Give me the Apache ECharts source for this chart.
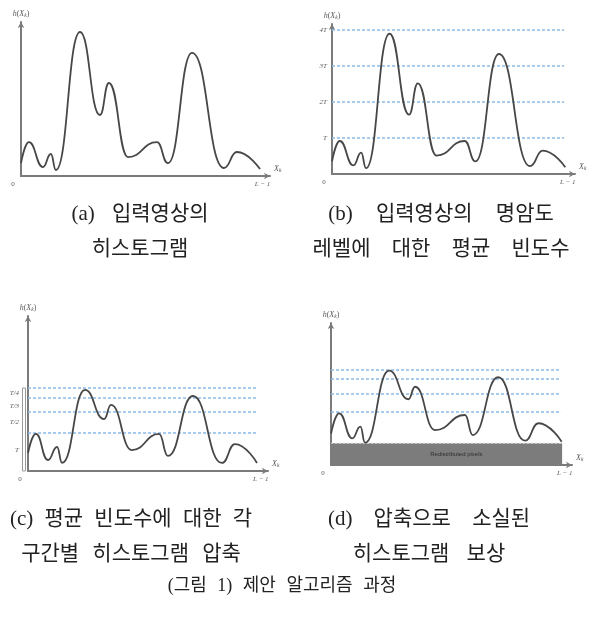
<!DOCTYPE html>
<html>
<head>
<meta charset="utf-8">
<script src="https://cdn.jsdelivr.net/npm/echarts@6/dist/echarts.min.js"></script>
<style>
  html, body { margin: 0; padding: 0; background: #fff; }
  #chart { width: 590px; height: 617px; }
</style>
</head>
<body>
<div id="chart"></div>
<script>
// Turning points of each histogram: [gray level (0 … L-1 scaled to 0–100), frequency h(X_k)]
const histInput = [
  [0, 8.4], [3.2, 22], [8.8, 5.8], [12, 14.3], [14, 3.9], [23.7, 93.5], [31.7, 39.6],
  [35.3, 60.4], [43, 12.3], [54.6, 22], [59, 8.4], [68.7, 80], [81.5, 5.2], [86.7, 15.6], [96, 4.5]
];
const histCompressed = [
  [0, 11.6], [3.3, 23.9], [8.3, 7.1], [12.1, 15.5], [14.2, 5.2], [23.75, 52.3], [31.7, 33.5],
  [34.6, 42.6], [43.3, 13.5], [54.6, 23.9], [58.3, 9.7], [68.75, 48.4], [80.8, 5.2], [86.25, 17.4], [95.4, 5.2]
];
const histCompensated = [
  [0, 22], [3.4, 36.4], [8.8, 18.8], [12.2, 27], [14.1, 15.7], [24.1, 66.4], [32.1, 46.3],
  [34.9, 55.1], [43.2, 24.6], [55.6, 35.2], [58.8, 21.1], [69.4, 61.8], [80.5, 17.1], [86.1, 29.4], [95.7, 16.4]
];

// Average-frequency levels (b), compressed interval bounds (c), and the same bounds after compensation (d)
const avgLevels = [24, 48, 72, 96];
const avgLevelLabels = ['T', '2T', '3T', '4T'];
const compressedLevels = [25, 38, 47, 53.5];
const intervalLabelPos = [13.5, 31.6, 42, 50.3];
const intervalLabels = ['T', 'T/2', 'T/3', 'T/4'];
const compensatedLevels = [37.5, 50.2, 60.4, 67.4];
const redistributedLevel = 15.3;
const levelEnd = 95.5;
const bandEnd = 95.9;
const lastLevelTick = 97;

const subCaptions = [
  ['(a) 입력영상의', '히스토그램'],
  ['(b) 입력영상의 명암도', '레벨에 대한 평균 빈도수'],
  ['(c) 평균 빈도수에 대한 각', '구간별 히스토그램 압축'],
  ['(d) 압축으로 소실된', '히스토그램 보상']
];
const figureTitle = '(그림 1) 제안 알고리즘 과정';

const SERIF = "'Liberation Serif', 'DejaVu Serif', serif";
const CAPTION_FONT = "'Liberation Serif', 'Noto Sans CJK KR', sans-serif";
const AXIS_COLOR = '#7b7b7b';
const CURVE_COLOR = '#474747';
const LEVEL_COLOR = '#8cbbe8';
const LABEL_COLOR = '#5a5a5a';

const grids = [
  { left: 21, top: 22, width: 249, height: 154 },
  { left: 332, top: 24, width: 243, height: 150 },
  { left: 28, top: 316, width: 240, height: 155 },
  { left: 331, top: 323, width: 241, height: 142 }
];
// caption block centres: [x, first line y] and half word-gap padding per line
const captionAnchors = [[140, 214], [441, 214], [131, 519], [429, 519]];
const captionPads = [[6, 5], [9, 8], [3, 4], [8, 6]];

const italicRich = {
  i: { fontFamily: SERIF, fontStyle: 'italic', fontSize: 8, color: LABEL_COLOR },
  p: { fontFamily: SERIF, fontSize: 8, color: LABEL_COLOR },
  s: { fontFamily: SERIF, fontStyle: 'italic', fontSize: 5.5, color: LABEL_COLOR, padding: [5, 0, 0, 0] },
  z: { fontFamily: SERIF, fontSize: 7, color: LABEL_COLOR, padding: [0, 16, 0, 0] },
  l: { fontFamily: SERIF, fontStyle: 'italic', fontSize: 7, color: LABEL_COLOR }
};

function xAxisFor(i) {
  return {
    type: 'value', gridIndex: i, min: 0, max: 100,
    axisLine: { show: true, lineStyle: { color: AXIS_COLOR, width: 2 }, symbol: ['none', 'arrow'], symbolSize: [5, 6] },
    axisTick: { show: false },
    splitLine: { show: false },
    axisLabel: {
      show: true, customValues: [0, lastLevelTick], margin: 5,
      formatter: v => (v === 0 ? '{z|0}' : '{l|L − 1}'),
      rich: italicRich
    },
    name: '{i|X}{s|k}', nameLocation: 'end', nameGap: 4,
    nameTextStyle: { rich: italicRich, verticalAlign: 'bottom', padding: [0, 0, 2, 0] }
  };
}

function yAxisFor(i, labelValues, labelTexts) {
  return {
    type: 'value', gridIndex: i, min: 0, max: 100,
    axisLine: { show: true, onZero: false, lineStyle: { color: AXIS_COLOR, width: 2 }, symbol: ['none', 'arrow'], symbolSize: [5, 6] },
    axisTick: { show: false },
    splitLine: { show: false },
    axisLabel: labelValues ? {
      show: true, customValues: labelValues, margin: i === 2 ? 9 : 5,
      formatter: v => '{i|' + labelTexts[labelValues.indexOf(v)] + '}',
      rich: { i: { fontFamily: SERIF, fontStyle: 'italic', fontSize: 7, color: LABEL_COLOR } }
    } : { show: false },
    name: '{i|h}{p|(}{i|X}{s|k}{p|)}', nameLocation: 'end', nameGap: 3,
    nameTextStyle: { rich: italicRich }
  };
}

function levelLines(levels, end) {
  return {
    silent: true, symbol: ['none', 'none'], animation: false,
    label: { show: false },
    lineStyle: { type: [3, 2], color: LEVEL_COLOR, width: 1.5, opacity: 1 },
    emphasis: { disabled: true },
    data: levels.map(v => [{ coord: [0, v] }, { coord: [end, v] }])
  };
}

function curve(i, data, extra) {
  return Object.assign({
    type: 'line', xAxisIndex: i, yAxisIndex: i, data: data,
    smooth: 0.5, smoothMonotone: 'x', showSymbol: false, symbol: 'none',
    lineStyle: { color: CURVE_COLOR, width: 1.8 }, silent: true, animation: false, z: 5
  }, extra || {});
}

const chart = echarts.init(document.getElementById('chart'), null, { renderer: 'canvas' });

chart.setOption({
  backgroundColor: '#ffffff',
  animation: false,
  grid: grids,
  xAxis: [0, 1, 2, 3].map(xAxisFor),
  yAxis: [
    yAxisFor(0),
    yAxisFor(1, avgLevels, avgLevelLabels),
    yAxisFor(2, intervalLabelPos, intervalLabels),
    yAxisFor(3)
  ],
  series: [
    curve(0, histInput),
    curve(1, histInput, { markLine: levelLines(avgLevels, levelEnd) }),
    curve(2, histCompressed, { markLine: levelLines(compressedLevels, levelEnd) }),
    // redistributed pixels: a flat block under the whole compensated histogram
    {
      type: 'line', xAxisIndex: 3, yAxisIndex: 3, silent: true, animation: false, z: 3,
      data: [[0, redistributedLevel], [bandEnd, redistributedLevel]],
      showSymbol: false, symbol: 'none',
      lineStyle: { type: [2, 2], color: '#d4d4d4', width: 1 },
      areaStyle: { color: '#7c7c7c', opacity: 1, origin: 'start' },
      label: { show: false },
      markPoint: {
        silent: true, animation: false, symbol: 'rect', symbolSize: 1,
        itemStyle: { color: 'rgba(0,0,0,0)' },
        label: {
          show: true, position: 'inside', formatter: 'Redistributed pixels',
          fontFamily: "'Liberation Sans', Arial, sans-serif", fontSize: 6, color: '#2e2e2e'
        },
        data: [{ coord: [52, redistributedLevel / 2] }]
      }
    },
    curve(3, histCompensated, { markLine: levelLines(compensatedLevels, levelEnd) })
  ]
});

// Interval bracket beside the compressed axis, and the text captions
const bracketTop = chart.convertToPixel({ xAxisIndex: 2, yAxisIndex: 2 }, [0, compressedLevels[3]]);
const bracketBottom = chart.convertToPixel({ xAxisIndex: 2, yAxisIndex: 2 }, [0, 0]);

const graphics = [{
  type: 'rect', silent: true,
  shape: { x: bracketTop[0] - 5.5, y: bracketTop[1], width: 3, height: bracketBottom[1] - bracketTop[1] },
  style: { fill: 'none', stroke: '#9a9a9a', lineWidth: 1 }
}];

// words are kept whole; the wider word spacing comes from token padding
function spacedText(str, size, pad) {
  return {
    text: str.split(' ').map(w => '{w|' + w + '}').join(' '),
    rich: { w: { font: size + 'px ' + CAPTION_FONT, fill: '#222', padding: [0, pad, 0, pad] } }
  };
}

subCaptions.forEach((lines, k) => {
  lines.forEach((t, j) => {
    const st = spacedText(t, 21, captionPads[k][j]);
    graphics.push({
      type: 'text', silent: true,
      x: captionAnchors[k][0], y: captionAnchors[k][1] + j * 35,
      style: { text: st.text, rich: st.rich, font: '21px ' + CAPTION_FONT, fill: '#222', align: 'center', verticalAlign: 'middle' }
    });
  });
});
const tt = spacedText(figureTitle, 18, 3);
graphics.push({
  type: 'text', silent: true, x: 282, y: 586,
  style: { text: tt.text, rich: tt.rich, font: '18px ' + CAPTION_FONT, fill: '#222', align: 'center', verticalAlign: 'middle' }
});
chart.setOption({ graphic: graphics });
</script>
</body>
</html>
